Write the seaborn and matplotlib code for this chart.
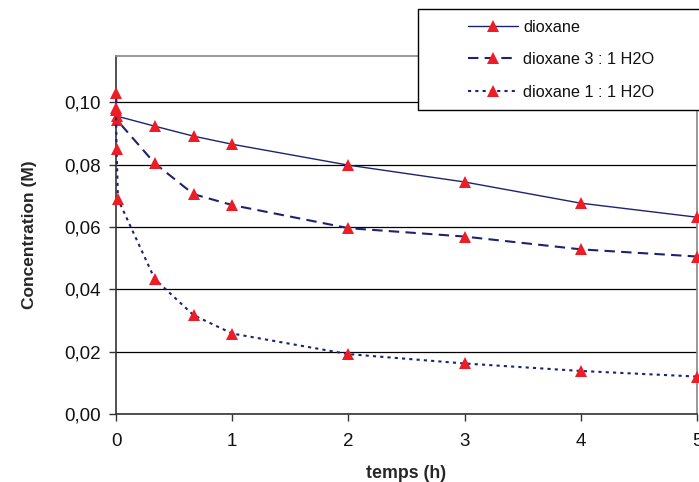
import pandas as pd
import matplotlib.pyplot as plt
import seaborn as sns
from matplotlib.ticker import FuncFormatter
from matplotlib.legend_handler import HandlerLine2D

# data
t_dioxane = [0, 0.01, 0.333, 0.667, 1, 2, 3, 4, 5]
c_dioxane = [0.098, 0.0955, 0.0923, 0.0891, 0.0865, 0.0798, 0.0744, 0.0676, 0.0631]

t_31 = [0, 0.01, 0.333, 0.667, 1, 2, 3, 4, 5]
c_31 = [0.103, 0.0942, 0.0804, 0.0705, 0.0670, 0.0596, 0.0569, 0.0528, 0.0505]

t_11 = [0, 0.005, 0.017, 0.333, 0.667, 1, 2, 3, 4, 5]
c_11 = [0.0975, 0.0849, 0.0689, 0.0433, 0.0317, 0.0258, 0.0192, 0.0162, 0.0138, 0.0120]

labels = ['dioxane', 'dioxane 3 : 1 H2O', 'dioxane 1 : 1 H2O']

df = pd.concat([
    pd.DataFrame({'temps': t_dioxane, 'conc': c_dioxane, 'serie': labels[0]}),
    pd.DataFrame({'temps': t_31, 'conc': c_31, 'serie': labels[1]}),
    pd.DataFrame({'temps': t_11, 'conc': c_11, 'serie': labels[2]}),
])

sns.set_style('white')
plt.rcParams['font.family'] = ['Liberation Sans', 'DejaVu Sans']

fig = plt.figure(figsize=(6.99, 4.82), dpi=100)
ax = fig.add_axes([116 / 699, 68 / 482, 581 / 699, 358 / 482])

navy = '#1c2370'
red = '#ee1c25'
styles = {labels[0]: '-', labels[1]: (0, (5, 3)), labels[2]: (0, (1.5, 2))}
widths = {labels[0]: 1.0, labels[1]: 1.5, labels[2]: 1.5}

for name in labels:
    sub = df[df['serie'] == name]
    sns.lineplot(data=sub, x='temps', y='conc', ax=ax, color=navy,
                 linestyle=styles[name], linewidth=widths[name],
                 marker='^', markersize=8, markerfacecolor=red,
                 markeredgecolor=red, markeredgewidth=0, label=name,
                 sort=False, estimator=None, clip_on=False, zorder=3)

ax.set_xlim(0, 5)
ax.set_ylim(0, 0.1148)
ax.set_xticks([0, 1, 2, 3, 4, 5])
ax.set_yticks([0, 0.02, 0.04, 0.06, 0.08, 0.10])
ax.yaxis.set_major_formatter(FuncFormatter(lambda v, p: f"{v:.2f}".replace('.', ',')))
ax.tick_params(axis='both', labelsize=13.5, length=5, width=1, direction='out',
               colors='#333333', labelcolor='#111111', bottom=True, left=True)
ax.tick_params(axis='y', pad=6)
ax.tick_params(axis='x', pad=8.5)
ax.grid(axis='y', color='black', linewidth=0.9)
ax.grid(axis='x', visible=False)
ax.set_axisbelow(True)

for side in ['left', 'bottom']:
    ax.spines[side].set_color('#333333')
    ax.spines[side].set_linewidth(1.2)
for side in ['top', 'right']:
    ax.spines[side].set_color('#888888')
    ax.spines[side].set_linewidth(1.2)

ax.set_xlabel('temps (h)', fontsize=12.8, fontweight='bold')
ax.set_ylabel('Concentration (M)', fontsize=12.5, fontweight='bold')
ax.xaxis.set_label_coords(0.499, -0.142)
ax.yaxis.set_label_coords(-0.136, 0.5)

fs = 11.7
leg = ax.legend(loc='upper left',
                bbox_to_anchor=(418 / 699, 0, 0.5, 1 - 9 / 482),
                bbox_transform=fig.transFigure, mode='expand',
                fontsize=fs, frameon=True, fancybox=False, edgecolor='black',
                framealpha=1, handlelength=5.51, handletextpad=0.3,
                labelspacing=1.08, borderpad=0.65, borderaxespad=0,
                handler_map={plt.Line2D: HandlerLine2D(xpad=2.43)})
leg.get_frame().set_linewidth(1.0)
leg.set_zorder(10)
for txt in leg.get_texts():
    txt.set_color('#111111')

fig.savefig('out.png', dpi=100)
